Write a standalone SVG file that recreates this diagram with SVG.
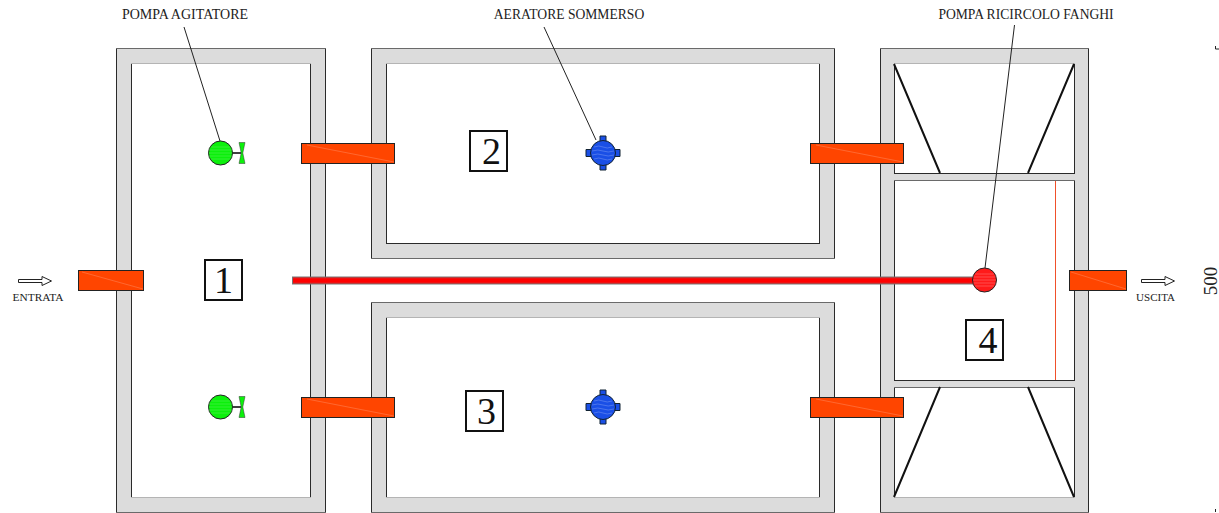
<svg xmlns="http://www.w3.org/2000/svg" width="1219" height="513" viewBox="0 0 1219 513">
<style>
.wall{fill:#dcdcdc;stroke:none;fill-rule:evenodd}
.dark{stroke:#2a2a2a;stroke-width:1;fill:none}
.mid{stroke:#6a6a6a;stroke-width:1;fill:none}
.pale{stroke:#b4b4b4;stroke-width:1;fill:none}
.pipe{fill:#ff4500;stroke:#222;stroke-width:1}
.seam{stroke:#ff8a60;stroke-width:.5;fill:none}
.lbl{font-family:"Liberation Serif",serif;fill:#222}
.num{font-family:"Liberation Serif",serif;font-size:38px;text-anchor:middle;fill:#111}
.box{fill:#fff;stroke:#111;stroke-width:2}
.lead{stroke:#222;stroke-width:1;fill:none}
.baffle{stroke:#111;stroke-width:2;fill:none}
.ripple{stroke-width:.6;fill:none}
.arrow{fill:#fff;stroke:#222;stroke-width:1}
</style>
<defs>
<g id="pump">
<circle r="12" fill="#0cf00c" stroke="#222" stroke-width="1"/>
<path class="ripple" stroke="#55f055" d="M-10-6H10M-11.500-3H11.500M-12 0H12M-11.500 3H11.500M-10 6H10"/>
<path d="M12 0H21" stroke="#111" stroke-width="1.600"/>
<path d="M18.500-10.500H24.500L22.300 0L24.500 10.500H18.500L20.700 0Z" fill="#0cf00c" stroke="#333" stroke-width=".5"/>
</g>
<g id="aerator">
<path d="M-3-17H3V-10H-3ZM-3 10H3V17H-3ZM-17-3.500H-10V3.500H-17ZM10-3.500H17V3.500H10Z" fill="#1a4fe6" stroke="#123" stroke-width="1"/>
<circle r="12.500" fill="#1a4fe6" stroke="#123" stroke-width="1"/>
<path class="ripple" stroke="#6c8df0" d="M-9-6Q-4-8 0-6T9-6M-11-2Q-5-4 0-2T11-2M-11 2Q-5 0 0 2T11 2M-9 6Q-4 4 0 6T9 6"/>
</g>
</defs>

<g id="tank-1">
<path class="wall" d="M116.500 48.500H325.500V512.500H116.500ZM131.500 63.500V497.500H310.500V63.500Z"/>
<path class="dark" d="M116.500 512V49M325.500 49V512M131.500 64V497M310.500 64V497"/>
<path class="mid" d="M116 48.500H326M116 512.500H326"/>
<path class="pale" d="M131 63.500H311M131 497.500H311"/>
</g>
<g id="tank-2">
<path class="wall" d="M371.500 48.500H834.500V258.500H371.500ZM386.500 63.500V243.500H819.500V63.500Z"/>
<path class="dark" d="M371.500 49V258M834.500 49V258M386.500 64V243M819.500 64V243M386 243.500H820"/>
<path class="mid" d="M371 48.500H835M371 258.500H835"/>
<path class="pale" d="M386 63.500H820"/>
</g>
<g id="tank-3">
<path class="wall" d="M371.500 302.500H834.500V512.500H371.500ZM386.500 317.500V497.500H819.500V317.500Z"/>
<path class="dark" d="M371.500 303V512M834.500 303V512M386.500 318V497M819.500 318V497"/>
<path class="mid" d="M371 302.500H835M371 512.500H835"/>
<path class="pale" d="M386 317.500H820M386 497.500H820"/>
</g>
<g id="tank-4">
<path class="wall" d="M880.500 48.500H1088.500V512.500H880.500ZM894.500 63.500V173.500H1074.500V63.500ZM894.500 180.500V380.500H1074.500V180.500ZM894.500 387.500V497.500H1074.500V387.500Z"/>
<path class="dark" d="M880.500 49V512M1088.500 49V512M894.500 64V173M1074.500 64V173M894.500 181V380M1074.500 181V380M894.500 388V497M1074.500 388V497M894 173.500H1075M894 380.500H1075"/>
<path class="mid" d="M880 48.500H1089M880 512.500H1089M894 180.500H1075M894 387.500H1075"/>
<path class="pale" d="M894 63.500H1075M894 497.500H1075"/>
<path class="baffle" d="M894 64L940 173M1074 64L1028 173M894 497L940 387M1074 497L1028 387"/>
<path d="M1055.500 181V380" stroke="#f0502a" stroke-width="1" fill="none"/>
</g>

<g id="connectors">
<path class="lead" d="M184 27L220 141M544 27L596 140M1014.500 25L985 268"/>
<g id="inlet">
<rect class="pipe" x="78.500" y="270.500" width="65" height="20"/>
<path class="seam" d="M82 272L143 289"/>
</g>
<g id="pipe-1-2">
<rect class="pipe" x="301.500" y="143.500" width="93" height="20"/>
<path class="seam" d="M307 145L394 162"/>
</g>
<g id="pipe-1-3">
<rect class="pipe" x="301.500" y="397.500" width="93" height="20"/>
<path class="seam" d="M307 399L394 416"/>
</g>
<g id="pipe-2-4">
<rect class="pipe" x="810.500" y="143.500" width="93" height="20"/>
<path class="seam" d="M816 145L903 162"/>
</g>
<g id="pipe-3-4">
<rect class="pipe" x="810.500" y="397.500" width="93" height="20"/>
<path class="seam" d="M816 399L903 416"/>
</g>
<g id="outlet">
<rect class="pipe" x="1069.500" y="270.500" width="57" height="20"/>
<path class="seam" d="M1071 272L1126 289"/>
</g>
<g id="recirculation">
<rect x="292.500" y="277" width="688" height="7" fill="#f01010" stroke="#777" stroke-width="1"/>
<path d="M293 280.500H980" stroke="#ff0000" stroke-width="3"/>
</g>
<path id="arrow-in" class="arrow" d="M18.500 279.500H42V276.500L51.500 281L42 285.500V282.500H18.500Z"/>
<path id="arrow-out" class="arrow" d="M1141.500 279.500H1165V276.500L1174.500 281L1165 285.500V282.500H1141.500Z"/>
</g>

<g id="node-1"><rect class="box" x="205" y="260" width="37" height="40"/><text class="num" x="223.500" y="293">1</text></g>
<g id="node-2"><rect class="box" x="470" y="131" width="37" height="40"/><text class="num" x="491.500" y="164">2</text></g>
<g id="node-3"><rect class="box" x="466" y="391" width="37" height="40"/><text class="num" x="486.500" y="424">3</text></g>
<g id="node-4"><rect class="box" x="966" y="320" width="37" height="40"/><text class="num" x="988" y="353">4</text></g>

<g id="pump-agitator-1"><use href="#pump" x="220.500" y="153"/></g>
<g id="pump-agitator-2"><use href="#pump" x="220.500" y="407"/></g>
<g id="aerator-2"><use href="#aerator" x="603" y="153"/></g>
<g id="aerator-3"><use href="#aerator" x="603" y="407"/></g>
<g id="pump-recirculation">
<circle cx="984.500" cy="280" r="12" fill="#ff1a1a" stroke="#222" stroke-width="1"/>
<path class="ripple" stroke="#ff7070" d="M975 274H994M973.500 277H995.500M973 280H996M973.500 283H995.500M975 286H994"/>
</g>

<g id="labels">
<text class="lbl" x="185" y="19" font-size="14" text-anchor="middle">POMPA AGITATORE</text>
<text class="lbl" x="569" y="19" font-size="13.600" text-anchor="middle">AERATORE SOMMERSO</text>
<text class="lbl" x="1026" y="19" font-size="13.600" text-anchor="middle">POMPA RICIRCOLO FANGHI</text>
<text class="lbl" x="38" y="301" font-size="11.400" text-anchor="middle">ENTRATA</text>
<text class="lbl" x="1155.500" y="301" font-size="11" text-anchor="middle">USCITA</text>
<text class="lbl" transform="translate(1217 281) rotate(-90)" font-size="19" text-anchor="middle" fill="#111">500</text>
<path d="M1215.500 46V49H1219M1215.500 512V509" stroke="#222" stroke-width="1" fill="none"/>
</g>
</svg>
